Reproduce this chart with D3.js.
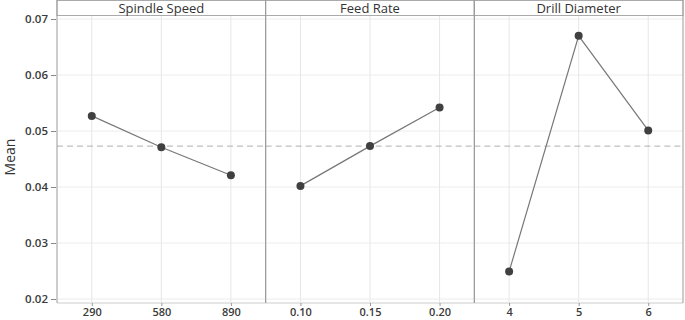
<!DOCTYPE html>
<html>
<head>
<meta charset="utf-8">
<script src="https://cdn.jsdelivr.net/npm/d3@7"></script>
<style>
body { margin: 0; background: #fff; }
text { font-family: "Open Sans", "Noto Sans", sans-serif; }
</style>
</head>
<body>
<div id="chart"></div>
<script>
// factor names and levels
var factors = ["Spindle Speed", "Feed Rate", "Drill Diameter"]
var spindleLevels = ["290", "580", "890"]
var feedLevels = ["0.10", "0.15", "0.20"]
var drillLevels = ["4", "5", "6"]
// means per level
var spindleMeans = [0.0527, 0.0471, 0.0421]
var feedMeans = [0.0402, 0.0473, 0.0542]
var drillMeans = [0.0249, 0.0670, 0.0501]
var grandMean = 0.0473
var yTicks = [0.02, 0.03, 0.04, 0.05, 0.06, 0.07]

var levels = [spindleLevels, feedLevels, drillLevels]
var means = [spindleMeans, feedMeans, drillMeans]

var W = 685, H = 320
var margin = {top: 0, right: 2, bottom: 17, left: 57}
var stripH = 15
var panelW = (W - margin.left - margin.right) / 3
var plotBottom = H - margin.bottom

var svg = d3.select("#chart")
  .append("svg")
  .attr("width", W)
  .attr("height", H)

var y = d3.scaleLinear()
  .domain([0.02, 0.07])
  .range([299, 19])

// y axis
var yAxis = svg.append("g")
  .attr("transform", "translate(" + (margin.left - 1) + ",0)")
  .call(d3.axisLeft(y).tickValues(yTicks).tickFormat(d3.format(".2f")).tickSize(5).tickPadding(3))
yAxis.select(".domain").remove()
yAxis.selectAll("line").attr("stroke", "#888")
yAxis.selectAll("text").style("font-size", "11.5px").style("font-weight", "600").attr("fill", "#3a3a3a")

svg.append("text")
  .attr("transform", "translate(15," + 157 + ")rotate(-90)")
  .attr("text-anchor", "middle")
  .style("font-size", "14px")
  .attr("fill", "#333")
  .text("Mean")

factors.forEach(function(f, i) {
  var x0 = margin.left + i * panelW
  var g = svg.append("g").attr("transform", "translate(" + x0 + ",0)")

  var x = d3.scalePoint()
    .domain(levels[i])
    .range([0, panelW])
    .padding(0.5)

  // grid
  g.selectAll(".hg")
    .data(yTicks)
    .enter()
    .append("line")
    .attr("x1", 0).attr("x2", panelW)
    .attr("y1", function(d) { return y(d) })
    .attr("y2", function(d) { return y(d) })
    .attr("stroke", "#ececec")
  g.selectAll(".vg")
    .data(levels[i])
    .enter()
    .append("line")
    .attr("x1", function(d) { return x(d) })
    .attr("x2", function(d) { return x(d) })
    .attr("y1", stripH).attr("y2", plotBottom - 1)
    .attr("stroke", "#e6e6e6")

  // grand mean
  g.append("line")
    .attr("x1", 0).attr("x2", panelW)
    .attr("y1", y(grandMean)).attr("y2", y(grandMean))
    .attr("stroke", "#b0b0b0")
    .attr("stroke-dasharray", "6,4")

  // x axis
  var xAxis = g.append("g")
    .attr("transform", "translate(0," + plotBottom + ")")
    .call(d3.axisBottom(x).tickSize(3).tickPadding(2))
  xAxis.select(".domain").attr("stroke", "#ccc").attr("d", "M0,0H" + panelW)
  xAxis.selectAll("line").attr("stroke", "#999")
  xAxis.selectAll("text").style("font-size", "11px").style("font-weight", "600").attr("fill", "#3a3a3a")

  // strip
  g.append("rect")
    .attr("x", 0).attr("y", 0.5)
    .attr("width", panelW).attr("height", stripH)
    .attr("fill", "#fff")
    .attr("stroke", "#aaa")
  g.append("text")
    .attr("x", panelW / 2).attr("y", 12.5)
    .attr("text-anchor", "middle")
    .style("font-size", "13px")
    .attr("fill", "#333")
    .text(f)

  // panel borders
  g.append("line")
    .attr("x1", 0).attr("x2", 0)
    .attr("y1", 0).attr("y2", plotBottom)
    .attr("stroke", "#999")
  g.append("line")
    .attr("x1", panelW).attr("x2", panelW)
    .attr("y1", 0).attr("y2", plotBottom)
    .attr("stroke", "#999")

  var data = levels[i].map(function(l, j) { return {lvl: l, m: means[i][j]} })

  g.append("path")
    .datum(data)
    .attr("fill", "none")
    .attr("stroke", "#777")
    .attr("stroke-width", 1.2)
    .attr("d", d3.line()
      .x(function(d) { return x(d.lvl) })
      .y(function(d) { return y(d.m) }))

  g.selectAll(".pt")
    .data(data)
    .enter()
    .append("circle")
    .attr("cx", function(d) { return x(d.lvl) })
    .attr("cy", function(d) { return y(d.m) })
    .attr("r", 4)
    .attr("fill", "#404040")
})
</script>
</body>
</html>
